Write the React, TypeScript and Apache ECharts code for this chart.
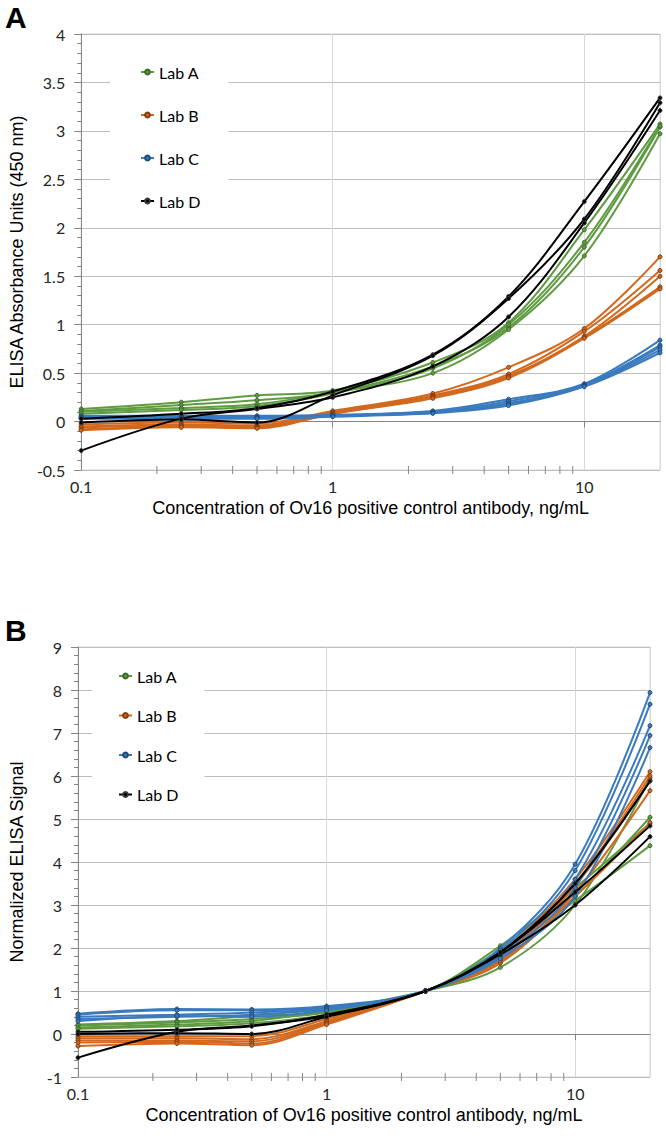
import React, { useEffect, useRef } from 'react';
import * as echarts from 'echarts';

// ---------- data ----------
const concentrations = [0.1, 0.25, 0.5, 1, 2.5, 5, 10, 20];
const labNames = ['Lab A', 'Lab B', 'Lab C', 'Lab D'];
const labColors = ['#5e9b41', '#d2691e', '#3a7bbf', '#000000'];
const markerColors = ['#3d6a2a', '#7f3d10', '#1f4a75', '#3a3a3a'];

// Panel A: ELISA absorbance (450 nm), one row per replicate curve
const absorbanceLabA = [
  [0.13, 0.20, 0.27, 0.32, 0.61, 1.02, 1.98, 3.07],
  [0.11, 0.17, 0.22, 0.30, 0.57, 0.97, 1.80, 3.04],
  [0.10, 0.14, 0.18, 0.30, 0.50, 0.95, 1.71, 2.97],
  [0.08, 0.12, 0.16, 0.29, 0.55, 1.00, 1.85, 3.05],
];
const absorbanceLabB = [
  [-0.03, -0.01, -0.02, 0.11, 0.29, 0.56, 0.96, 1.70],
  [-0.05, -0.03, -0.04, 0.10, 0.27, 0.49, 0.93, 1.56],
  [-0.06, -0.04, -0.05, 0.09, 0.26, 0.47, 0.88, 1.50],
  [-0.08, -0.05, -0.06, 0.08, 0.25, 0.46, 0.87, 1.39],
  [-0.09, -0.06, -0.07, 0.08, 0.24, 0.45, 0.86, 1.37],
];
const absorbanceLabC = [
  [0.06, 0.06, 0.06, 0.07, 0.11, 0.23, 0.39, 0.84],
  [0.05, 0.05, 0.05, 0.06, 0.10, 0.21, 0.38, 0.79],
  [0.04, 0.05, 0.04, 0.06, 0.10, 0.19, 0.37, 0.77],
  [0.04, 0.04, 0.04, 0.06, 0.09, 0.18, 0.37, 0.74],
  [0.03, 0.03, 0.03, 0.05, 0.085, 0.165, 0.36, 0.71],
];
const absorbanceLabD = [
  [-0.30, 0.03, 0.13, 0.25, 0.57, 1.08, 2.05, 3.21],
  [0.03, 0.08, 0.14, 0.31, 0.69, 1.29, 2.27, 3.34],
  [-0.01, 0.02, -0.01, 0.27, 0.68, 1.27, 2.09, 3.29],
];

// Panel B: normalized ELISA signal
const normalizedLabA = [
  [0.22, 0.30, 0.42, 0.52, 1, 1.67, 3.20, 5.04],
  [0.20, 0.27, 0.35, 0.50, 1, 2.05, 3.40, 4.90],
  [0.15, 0.22, 0.30, 0.55, 1, 1.55, 3.00, 5.95],
  [0.12, 0.18, 0.25, 0.45, 1, 1.95, 3.10, 4.38],
];
const normalizedLabB = [
  [-0.05, -0.05, -0.05, 0.35, 1, 1.90, 3.60, 6.10],
  [-0.10, -0.10, -0.12, 0.30, 1, 1.80, 3.50, 6.00],
  [-0.15, -0.15, -0.17, 0.28, 1, 1.75, 3.45, 5.90],
  [-0.20, -0.18, -0.22, 0.25, 1, 1.65, 3.30, 5.66],
  [-0.28, -0.22, -0.26, 0.22, 1, 1.70, 3.20, 4.92],
];
const normalizedLabC = [
  [0.47, 0.58, 0.57, 0.65, 1, 2.00, 3.95, 7.94],
  [0.45, 0.55, 0.55, 0.62, 1, 1.95, 3.80, 7.67],
  [0.40, 0.45, 0.50, 0.60, 1, 1.85, 3.60, 7.17],
  [0.35, 0.40, 0.45, 0.58, 1, 1.80, 3.40, 6.94],
  [0.30, 0.42, 0.40, 0.55, 1, 1.75, 3.20, 6.66],
];
const normalizedLabD = [
  [-0.55, 0.05, 0.20, 0.42, 1, 1.90, 3.50, 5.88],
  [0.05, 0.10, 0.18, 0.45, 1, 1.85, 3.00, 4.59],
  [0.00, 0.02, 0.00, 0.40, 1, 1.90, 3.30, 4.84],
];

const xMinorTicks = [0.2, 0.3, 0.4, 0.5, 0.6, 0.7, 0.8, 0.9, 2, 3, 4, 5, 6, 7, 8, 9];
const xAxisTitle = 'Concentration of Ov16 positive control antibody, ng/mL';
const yAxisTitleA = 'ELISA Absorbance Units (450 nm)';
const yAxisTitleB = 'Normalized ELISA Signal';
const yRangeA = { min: -0.5, max: 4, interval: 0.5 };
const yRangeB = { min: -1, max: 9, interval: 1 };

const labelFont = 'Lato';
const titleFont = '"Liberation Sans"';
const axisGray = '#868686';

function logLabel(v: number) {
  const l = Math.log10(v);
  if (Math.abs(l - Math.round(l)) < 1e-6) return String(+Math.pow(10, Math.round(l)).toPrecision(3));
  return '';
}

function buildOption() {
  const panels = [
    [absorbanceLabA, absorbanceLabB, absorbanceLabC, absorbanceLabD],
    [normalizedLabA, normalizedLabB, normalizedLabC, normalizedLabD],
  ];
  const yRanges = [yRangeA, yRangeB];
  const series: any[] = [];
  panels.forEach((labs, g) => {
    labs.forEach((reps, li) => {
      reps.forEach((rep) => {
        series.push({
          type: 'line',
          name: labNames[li],
          xAxisIndex: g,
          yAxisIndex: g,
          data: concentrations.map((c, i) => [c, rep[i]]),
          smooth: 0.35,
          symbol: 'circle',
          symbolSize: 4,
          showSymbol: true,
          lineStyle: { color: labColors[li], width: 2 },
          itemStyle: { color: labColors[li], borderColor: markerColors[li], borderWidth: 1 },
          emphasis: { disabled: true },
          z: 2 + li,
        });
      });
    });
    series.push({
      type: 'custom',
      name: 'minor-x-' + g,
      xAxisIndex: g,
      yAxisIndex: g,
      silent: true,
      z: 10,
      data: xMinorTicks.map((v) => [v, yRanges[g].min]),
      renderItem: (params: any, api: any) => {
        const p = api.coord([api.value(0), api.value(1)]);
        return {
          type: 'line',
          shape: { x1: p[0], y1: p[1] - 4, x2: p[0], y2: p[1] + 4 },
          style: { stroke: axisGray, lineWidth: 1 },
        };
      },
    });
  });

  const makeX = (g: number) => ({
    type: 'log',
    logBase: 10,
    gridIndex: g,
    min: 0.1,
    max: 20,
    axisLine: { show: true, lineStyle: { color: axisGray } },
    axisTick: { show: true, length: 6, lineStyle: { color: axisGray } },
    splitLine: { show: true, lineStyle: { color: '#d9d9d9' } },
    minorTick: { show: false },
    axisLabel: {
      formatter: logLabel,
      fontSize: 16,
      fontFamily: labelFont,
      color: '#262626',
      margin: 8,
      showMaxLabel: false,
    },
    name: xAxisTitle,
    nameLocation: 'middle',
    nameGap: 29,
    nameTextStyle: { fontSize: 18, fontFamily: titleFont, color: '#000' },
  });

  const makeY = (g: number, title: string, gap: number) => ({
    type: 'value',
    gridIndex: g,
    min: yRanges[g].min,
    max: yRanges[g].max,
    interval: yRanges[g].interval,
    axisLine: { show: true, lineStyle: { color: axisGray } },
    axisTick: { show: true, length: 7, lineStyle: { color: axisGray } },
    minorTick: { show: true, splitNumber: 5, length: 4, lineStyle: { color: axisGray } },
    splitLine: { show: true, lineStyle: { color: '#bdbdbd' } },
    axisLabel: { fontSize: 16, fontFamily: labelFont, color: '#262626', margin: 16 },
    name: title,
    nameLocation: 'middle',
    nameGap: gap,
    nameTextStyle: { fontSize: 18, fontFamily: titleFont, color: '#000' },
  });

  const legendBase = {
    orient: 'vertical',
    data: labNames,
    backgroundColor: '#ffffff',
    itemWidth: 13,
    itemHeight: 6,
    selectedMode: false,
    textStyle: { fontSize: 16, fontFamily: labelFont, color: '#000', lineHeight: 20 },
  };

  return {
    animation: false,
    backgroundColor: '#ffffff',
    grid: [
      { left: 79, top: 34, width: 581, height: 436, show: true, borderColor: '#d9d9d9', borderWidth: 1 },
      { left: 77, top: 647, width: 573, height: 430, show: true, borderColor: '#d9d9d9', borderWidth: 1 },
    ],
    xAxis: [makeX(0), makeX(1)],
    yAxis: [makeY(0, yAxisTitleA, 54), makeY(1, yAxisTitleB, 52)],
    legend: [
      { ...legendBase, left: 110, top: 50, itemGap: 23, padding: [12, 28, 8, 30] },
      { ...legendBase, left: 92, top: 655, itemGap: 19.5, padding: [11, 26, 10, 26] },
    ],
    graphic: [
      { type: 'text', left: 5, top: 2, style: { text: 'A', font: `bold 30px ${titleFont}`, fill: '#000' } },
      { type: 'text', left: 5, top: 615, style: { text: 'B', font: `bold 30px ${titleFont}`, fill: '#000' } },
    ],
    series,
  };
}

export default function App() {
  const ref = useRef<HTMLDivElement>(null);
  useEffect(() => {
    if (!ref.current) return;
    const chart = echarts.init(ref.current, undefined, { renderer: 'svg' });
    chart.setOption(buildOption() as any);
    return () => chart.dispose();
  }, []);
  return (
    <div
      ref={ref}
      style={{ position: 'absolute', left: 0, top: 0, width: 666, height: 1136, background: '#fff' }}
    />
  );
}
